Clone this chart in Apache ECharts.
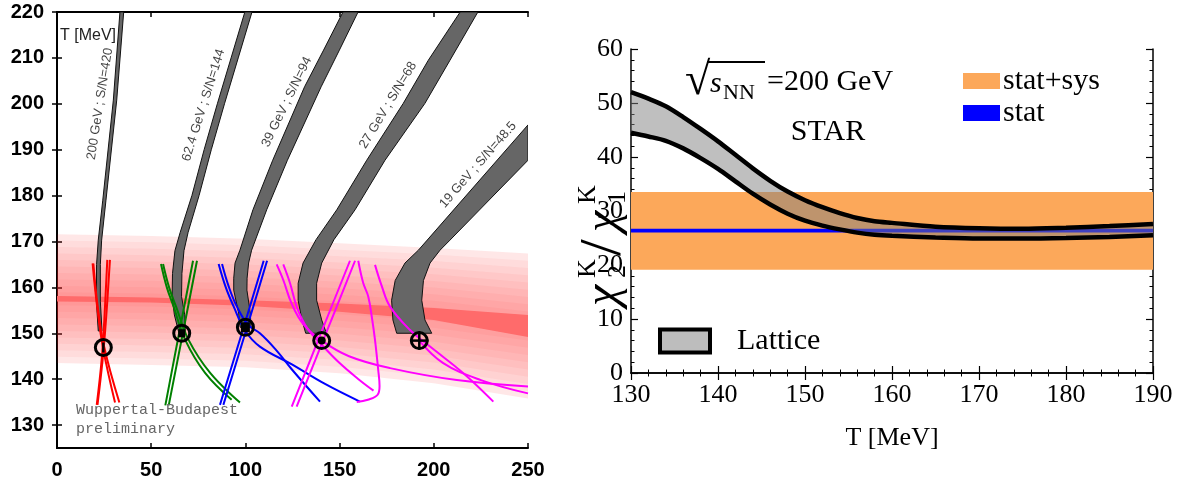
<!DOCTYPE html>
<html>
<head>
<meta charset="utf-8">
<script src="https://cdn.jsdelivr.net/npm/echarts@6/dist/echarts.min.js"></script>
<style>
html, body { margin: 0; padding: 0; background: #fff; }
#chart { width: 1189px; height: 485px; }
</style>
</head>
<body>
<div id="chart"></div>
<script>
// ---------- left panel: freeze-out bands vs lattice crossover ----------
const muTicks = [0, 50, 100, 150, 200, 250];
const tTicksLeft = [130, 140, 150, 160, 170, 180, 190, 200, 210, 220];

// lattice crossover sheet (outer edge) and its central ridge
const sheetX = [0, 50, 100, 150, 200, 250];
const sheetTop = [171.6, 171.2, 170.6, 169.6, 168.6, 167.4];
const sheetBottom = [143.5, 143.1, 142.6, 141.3, 139.1, 135.8];
const ridgeTop = [158.1, 157.8, 157.2, 156.5, 155.5, 154.0];
const ridgeBottom = [156.9, 156.7, 156.0, 154.7, 152.9, 149.2];

// isentropic bands, left and right edge, top to bottom
const band200L = [[33.4, 220], [29.9, 200.8], [24.3, 179], [21.9, 170.3], [21.0, 165], [20.9, 157], [21.9, 150.5]];
const band200R = [[35.4, 220], [31.7, 200.8], [26.0, 179], [23.7, 170.3], [23.0, 165], [23.0, 157], [23.9, 150.5]];
const band62L = [[99.7, 220], [92.4, 210], [85.1, 200], [78.1, 190], [71.6, 180], [65.4, 172], [62.6, 168], [61.3, 163], [61.1, 158], [62.3, 154], [64.6, 150.2]];
const band62R = [[103.5, 220], [96.2, 210], [88.9, 200], [81.9, 190], [75.4, 180], [69.6, 172], [67.4, 168], [66.3, 163], [66.1, 158], [67.8, 154], [68.1, 150.2]];
const band39L = [[151.8, 220], [141.5, 211.7], [131.4, 203.7], [114.5, 187.7], [104.0, 176.9], [97.1, 168.1], [94.5, 165.3], [93.8, 162], [93.8, 159.4], [96.4, 154.4], [97.2, 151.3]];
const band39R = [[159.8, 220], [149.9, 211.7], [140.2, 203.7], [122.3, 187.7], [111.3, 176.9], [103.3, 168.1], [101.7, 165.3], [100.9, 162], [100.8, 159.4], [102.6, 154.4], [103.0, 151.3]];
const band27L = [[214.0, 220], [197.1, 209.5], [183.8, 200.1], [164.4, 187.7], [148.5, 176.9], [137.5, 170.4], [130.6, 165.3], [128.0, 160.9], [128.0, 157.2], [130.0, 152.9], [132.0, 150]];
const band27R = [[223.4, 220], [208.6, 209.5], [195.3, 200.1], [174.1, 187.7], [158.2, 176.9], [147.0, 170.4], [140.5, 165.3], [137.8, 160.9], [137.8, 157.2], [140.5, 152.9], [143.0, 150]];
const band19L = [[250, 195.4], [196.5, 170.3], [191.8, 168.1], [184.7, 165.3], [179.5, 161.5], [177.6, 157.2], [178.3, 152.9], [180.3, 150]];
const band19R = [[250, 187.7], [208.6, 170.3], [203.3, 168.1], [198.0, 165.3], [194.5, 161.5], [193.6, 157.2], [195.3, 152.9], [198.9, 150]];

const bandNames = ['200 GeV ; S/N=420', '62.4 GeV ; S/N=144', '39 GeV ; S/N=94', '27 GeV ; S/N=68', '19 GeV ; S/N=48.5'];
const bandLabelX = [22.8, 77.8, 122.0, 175.7, 223.5];
const bandLabelY = [200.0, 199.7, 200.4, 199.7, 186.7];

// freeze-out points
const pointX = [24.6, 66.2, 100.0, 140.5, 192.3];
const pointY = [146.9, 150.0, 151.3, 148.4, 148.4];

// fluctuation-ratio contours
const red1 = [[18.9, 165.2], [21.1, 156.5], [24.3, 147.1], [30.8, 134.9]];
const red2 = [[19.3, 165.2], [21.4, 156.5], [25.0, 147.1], [33.1, 134.9]];
const red3 = [[26.7, 166.0], [25.1, 152.9], [23.7, 144.2], [21.1, 134.4]];
const red4 = [[28.1, 166.0], [26.0, 152.9], [24.2, 144.2], [21.5, 134.4]];
const green1 = [[56.3, 165.1], [59.5, 160], [63.2, 155.8], [69.9, 148.5], [81.4, 141.3], [97.1, 134.9]];
const green2 = [[55.2, 165.1], [58.3, 160], [61.9, 155.8], [68.1, 148.5], [78.7, 141.3], [92.7, 135.5]];
const green3 = [[72.2, 165.8], [64.8, 150], [57.5, 134.3]];
const green4 = [[74.3, 165.8], [66.8, 150], [59.3, 134.3]];
const blue1 = [[85.8, 165.1], [89.6, 160], [93.8, 155.8], [99.8, 150.6], [107.7, 147.1], [124.7, 143.2], [142.0, 139.0], [160.8, 135.1]];
const blue2 = [[87.6, 165.1], [91.3, 160], [95.5, 155.8], [101.5, 151.8], [107.7, 150.0], [116.0, 146.5], [124.7, 142.1], [139.6, 135.1]];
const blue3 = [[109.7, 165.8], [98.1, 150], [86.5, 134.4]];
const blue4 = [[111.5, 165.8], [99.9, 150], [88.3, 134.4]];
const mag1 = [[155.5, 165.8], [140.0, 149.9], [124.6, 134.0]];
const mag2 = [[158.2, 165.8], [142.7, 149.9], [127.2, 134.0]];
const mag3 = [[159.9, 165.8], [162.5, 161.0], [165.2, 158.0], [167.3, 153.0], [168.8, 148.5], [170.5, 142.0], [171.2, 138.5], [170.2, 136.6], [165.0, 135.5], [159.1, 135.0]];
const mag4 = [[116.6, 165.0], [120.2, 161.5], [124.5, 156.5], [130.7, 152.0], [140.5, 148.4], [155.0, 145.0], [176.8, 142.4], [212.2, 139.8], [250, 138.4]];
const mag5 = [[120.1, 165.0], [123.7, 160.9], [127.5, 155.5], [133.0, 151.0], [140.5, 147.5], [150.0, 143.5], [160.0, 140.0], [168.0, 137.5]];
const mag6 = [[168.8, 164.9], [172.2, 160.5], [176.8, 155.8], [187.4, 150.7], [198.0, 147.1], [215.7, 141.3], [231.6, 135.1]];
const mag7 = [[192.3, 148.4], [205.0, 143.5], [225.0, 139.8], [250, 136.9]];

// ---------- right panel: chi2/chi1 kaon ratio ----------
const tempRange = [130, 190];
const latticeT = [130, 132, 134, 136, 138, 140, 142, 144, 146, 148, 150, 152, 154, 156, 158, 160, 165, 170, 175, 180, 185, 190];
const latticeUpper = [52.0, 50.8, 49.4, 47.4, 45.2, 42.9, 40.4, 37.9, 35.6, 33.6, 32.0, 30.7, 29.6, 28.7, 28.1, 27.8, 27.1, 26.8, 26.7, 26.9, 27.2, 27.6];
const latticeLower = [44.5, 43.8, 43.0, 41.6, 39.8, 37.8, 35.5, 33.2, 31.2, 29.5, 28.2, 27.3, 26.6, 26.0, 25.6, 25.4, 25.1, 24.9, 24.9, 25.0, 25.2, 25.5];
const statSysRange = [19.1, 33.5];
const statRange = [26.0, 26.7];

const chart = echarts.init(document.getElementById('chart'));

function polygons(polys, style, z, axis) {
    return {
        type: 'custom',
        xAxisIndex: axis,
        yAxisIndex: axis,
        z: z,
        clip: true,
        silent: true,
        data: polys.map((p, i) => [p[0][0], p[0][1], i]),
        renderItem: (params, api) => ({
            type: 'polygon',
            shape: { points: polys[params.dataIndex].map(pt => api.coord(pt)) },
            style: typeof style === 'function' ? style(params.dataIndex) : style
        })
    };
}

function curve(pts, color) {
    return {
        type: 'line', xAxisIndex: 0, yAxisIndex: 0, data: pts, smooth: 0.4,
        showSymbol: false, symbol: 'none', silent: true, z: 4, clip: true,
        lineStyle: { color: color, width: 2 }
    };
}

// shaded sheet: nested layers around the ridge
const sheetLayers = [];
for (let k = 0; k < 10; k++) {
    const f = 1 - k / 10;
    const up = [], lo = [];
    sheetX.forEach((x, i) => {
        const mid = (ridgeTop[i] + ridgeBottom[i]) / 2;
        up.push([x, mid + (sheetTop[i] - mid) * f]);
        lo.push([x, mid + (sheetBottom[i] - mid) * f]);
    });
    sheetLayers.push(up.concat(lo.reverse()));
}
const ridge = [sheetX.map((x, i) => [x, ridgeTop[i]]).concat(sheetX.map((x, i) => [x, ridgeBottom[i]]).reverse())];

const grayBands = [
    band200L.concat(band200R.slice().reverse()),
    band62L.concat(band62R.slice().reverse()),
    band39L.concat(band39R.slice().reverse()),
    band27L.concat(band27R.slice().reverse()),
    band19L.concat(band19R.slice().reverse())
];

const latticeFill = [latticeT.map((t, i) => [t, latticeUpper[i]]).concat(latticeT.map((t, i) => [t, latticeLower[i]]).reverse())];
const statSysBox = [[[tempRange[0], statSysRange[0]], [tempRange[1], statSysRange[0]], [tempRange[1], statSysRange[1]], [tempRange[0], statSysRange[1]]]];
const statBox = [[[tempRange[0], statRange[0]], [tempRange[1], statRange[0]], [tempRange[1], statRange[1]], [tempRange[0], statRange[1]]]];

const sans = 'Liberation Sans';
const serif = 'Liberation Serif';

const leftAxisLine = { lineStyle: { color: '#000', width: 2 } };
const leftTick = { inside: true, length: 5, lineStyle: { color: '#000', width: 1.5 } };
const rightAxisLine = { lineStyle: { color: '#000', width: 1.5 } };
const rightTick = { inside: true, length: 7, lineStyle: { color: '#000', width: 1.2 } };
const rightMinor = { show: true, splitNumber: 5, length: 3.5, lineStyle: { color: '#000', width: 1 } };

function yTitlePart(text, x, y, size, italic) {
    return {
        type: 'text', x: x, y: y,
        style: { text: text, fontFamily: serif, fontStyle: italic ? 'italic' : 'normal', fontSize: size, fill: '#000', verticalAlign: 'middle' }
    };
}

const option = {
    animation: false,
    grid: [
        { left: 57, top: 12, width: 471, height: 436 },
        { left: 631, top: 49, width: 522, height: 324 }
    ],
    xAxis: [
        {
            gridIndex: 0, type: 'value', min: muTicks[0], max: muTicks[muTicks.length - 1], interval: 50,
            axisLine: leftAxisLine, axisTick: leftTick, splitLine: { show: false },
            axisLabel: { fontFamily: sans, fontWeight: 'bold', fontSize: 20, color: '#000', margin: 12 }
        },
        {
            gridIndex: 0, type: 'value', position: 'top', min: 0, max: 250, interval: 50,
            axisLine: leftAxisLine, axisTick: leftTick, splitLine: { show: false }, axisLabel: { show: false }
        },
        {
            gridIndex: 1, type: 'value', min: tempRange[0], max: tempRange[1], interval: 10,
            axisLine: rightAxisLine, axisTick: rightTick, minorTick: rightMinor, splitLine: { show: false },
            axisLabel: { fontFamily: serif, fontSize: 26, color: '#000', margin: 9 },
            name: 'T [MeV]', nameLocation: 'middle', nameGap: 52,
            nameTextStyle: { fontFamily: serif, fontSize: 26, color: '#000' }
        },
        {
            gridIndex: 1, type: 'value', position: 'top', min: tempRange[0], max: tempRange[1], interval: 10,
            axisLine: rightAxisLine, axisTick: rightTick, minorTick: rightMinor, splitLine: { show: false },
            axisLabel: { show: false }
        }
    ],
    yAxis: [
        {
            gridIndex: 0, type: 'value', min: 125, max: 220, interval: 5,
            axisLine: leftAxisLine,
            axisTick: Object.assign({ customValues: tTicksLeft }, leftTick),
            splitLine: { show: false },
            axisLabel: { customValues: tTicksLeft, fontFamily: sans, fontWeight: 'bold', fontSize: 20, color: '#000', margin: 13 }
        },
        {
            gridIndex: 0, type: 'value', position: 'right', min: 125, max: 220, interval: 5,
            axisLine: leftAxisLine,
            axisTick: Object.assign({ customValues: tTicksLeft }, leftTick),
            splitLine: { show: false }, axisLabel: { show: false }
        },
        {
            gridIndex: 1, type: 'value', min: 0, max: 60, interval: 10,
            axisLine: rightAxisLine, axisTick: rightTick, minorTick: rightMinor, splitLine: { show: false },
            axisLabel: { fontFamily: serif, fontSize: 26, color: '#000', margin: 8 }
        },
        {
            gridIndex: 1, type: 'value', position: 'right', min: 0, max: 60, interval: 10,
            axisLine: rightAxisLine, axisTick: rightTick, minorTick: rightMinor, splitLine: { show: false },
            axisLabel: { show: false }
        }
    ],
    legend: [
        {
            data: ['stat+sys', 'stat'], orient: 'vertical', left: 963, top: 66, padding: 0,
            icon: 'rect', itemWidth: 37, itemHeight: 16, itemGap: 2, selectedMode: false,
            textStyle: { fontFamily: serif, fontSize: 30, color: '#000', padding: [0, 0, 0, -2] }
        },
        {
            data: [{ name: 'Lattice', icon: 'rect', itemStyle: { color: '#bdbdbd', borderColor: '#000', borderWidth: 4 } }],
            left: 658, top: 326, padding: 0, itemWidth: 50, itemHeight: 23, selectedMode: false,
            textStyle: { fontFamily: serif, fontSize: 30, color: '#000', padding: [0, 0, 0, 22] }
        }
    ],
    series: [
        polygons(sheetLayers, i => ({ fill: i === 0 ? 'rgba(255,40,40,0.11)' : 'rgba(255,40,40,0.055)' }), 1, 0),
        polygons(ridge, { fill: '#ff6b6b' }, 2, 0),
        polygons(grayBands, { fill: '#666666', stroke: '#111', lineWidth: 1 }, 3, 0),
        curve(red1, '#ff0000'), curve(red2, '#ff0000'), curve(red3, '#ff0000'), curve(red4, '#ff0000'),
        curve(green1, '#008000'), curve(green2, '#008000'), curve(green3, '#008000'), curve(green4, '#008000'),
        curve(blue1, '#0000ff'), curve(blue2, '#0000ff'), curve(blue3, '#0000ff'), curve(blue4, '#0000ff'),
        curve(mag1, '#ff00ff'), curve(mag2, '#ff00ff'), curve(mag3, '#ff00ff'), curve(mag4, '#ff00ff'),
        curve(mag5, '#ff00ff'), curve(mag6, '#ff00ff'), curve(mag7, '#ff00ff'),
        {
            type: 'scatter', xAxisIndex: 0, yAxisIndex: 0, z: 6, silent: true,
            data: pointX.map((x, i) => [x, pointY[i]]),
            symbol: 'circle', symbolSize: 16,
            itemStyle: { color: 'rgba(0,0,0,0)', borderColor: '#000', borderWidth: 3, opacity: 1 }
        },
        {
            type: 'scatter', xAxisIndex: 0, yAxisIndex: 0, z: 6, silent: true,
            itemStyle: { color: '#000', opacity: 1 },
            data: [
                { value: [pointX[0], pointY[0]], symbol: 'rect', symbolSize: [2.5, 10] },
                { value: [pointX[1], pointY[1]], symbol: 'rect', symbolSize: [7, 8] },
                { value: [pointX[2], pointY[2]], symbol: 'rect', symbolSize: [9, 10] },
                { value: [pointX[3], pointY[3]], symbol: 'circle', symbolSize: 8 },
                { value: [pointX[4], pointY[4]], symbol: 'rect', symbolSize: [18, 2.5] },
                { value: [pointX[4], pointY[4]], symbol: 'rect', symbolSize: [2.5, 18] }
            ]
        },
        {
            type: 'scatter', xAxisIndex: 0, yAxisIndex: 0, z: 7, silent: true, symbolSize: 1,
            itemStyle: { color: 'rgba(0,0,0,0)' },
            label: { show: true, position: 'inside', formatter: '{b}', fontFamily: sans, fontSize: 13, color: '#111' },
            data: bandNames.map((n, i) => ({
                name: n, value: [bandLabelX[i], bandLabelY[i]],
                label: { rotate: [81, 72.5, 64, 58.8, 48.8][i] }
            }))
        },

        // right panel
        Object.assign(polygons(statSysBox, { fill: '#fca85a' }, 1, 2), { name: 'stat+sys', itemStyle: { color: '#fca85a' } }),
        Object.assign(polygons(statBox, { fill: '#0000ff' }, 2, 2), { name: 'stat', itemStyle: { color: '#0000ff' } }),
        Object.assign(polygons(latticeFill, { fill: 'rgba(128,128,128,0.5)' }, 3, 2), { name: 'Lattice', itemStyle: { color: '#bdbdbd' } }),
        {
            type: 'line', xAxisIndex: 2, yAxisIndex: 2, z: 4, silent: true, smooth: 0.3, showSymbol: false, symbol: 'none',
            data: latticeT.map((t, i) => [t, latticeUpper[i]]),
            lineStyle: { color: '#000', width: 4.5 }
        },
        {
            type: 'line', xAxisIndex: 2, yAxisIndex: 2, z: 4, silent: true, smooth: 0.3, showSymbol: false, symbol: 'none',
            data: latticeT.map((t, i) => [t, latticeLower[i]]),
            lineStyle: { color: '#000', width: 4.5 }
        }
    ],
    graphic: [
        { type: 'text', left: 60, top: 28, z: 10, style: { text: 'T [MeV]', fontFamily: sans, fontSize: 16, fill: '#222' } },
        {
            type: 'text', left: 76, top: 401, z: 10,
            style: { text: 'Wuppertal-Budapest\npreliminary', fontFamily: 'Liberation Mono', fontSize: 15, lineHeight: 19, fill: '#666' }
        },
        // sqrt(s_NN) = 200 GeV
        { type: 'text', x: 685, y: 82, z: 10, style: { text: '\u221A', fontFamily: serif, fontSize: 46, fill: '#000', verticalAlign: 'middle' } },
        { type: 'line', z: 10, shape: { x1: 707, y1: 62, x2: 765, y2: 62 }, style: { stroke: '#000', lineWidth: 2 } },
        { type: 'text', x: 710, y: 84, z: 10, style: { text: 's', fontFamily: serif, fontStyle: 'italic', fontSize: 30, fill: '#000', verticalAlign: 'middle' } },
        { type: 'text', x: 723, y: 93, z: 10, style: { text: 'NN', fontFamily: serif, fontSize: 22, fill: '#000', verticalAlign: 'middle' } },
        { type: 'text', x: 767, y: 82, z: 10, style: { text: '=200 GeV', fontFamily: serif, fontSize: 30, fill: '#000', verticalAlign: 'middle' } },
        { type: 'text', x: 828, y: 132, z: 10, style: { text: 'STAR', fontFamily: serif, fontSize: 30, fill: '#000', align: 'center', verticalAlign: 'middle' } },
        // y axis title chi2K / chi1K, reading bottom to top
        {
            type: 'group', x: 604, y: 226, rotation: Math.PI / 2, z: 10,
            children: [
                yTitlePart('\u03C7', -80, 0, 48, true),
                yTitlePart('2', -52, 14, 26),
                yTitlePart('K', -52, -16, 26),
                yTitlePart('/', -30, 0, 60),
                yTitlePart('\u03C7', -6, 0, 48, true),
                yTitlePart('1', 22, 14, 26),
                yTitlePart('K', 22, -16, 26)
            ]
        }
    ]
};

chart.setOption(option);
</script>
</body>
</html>
